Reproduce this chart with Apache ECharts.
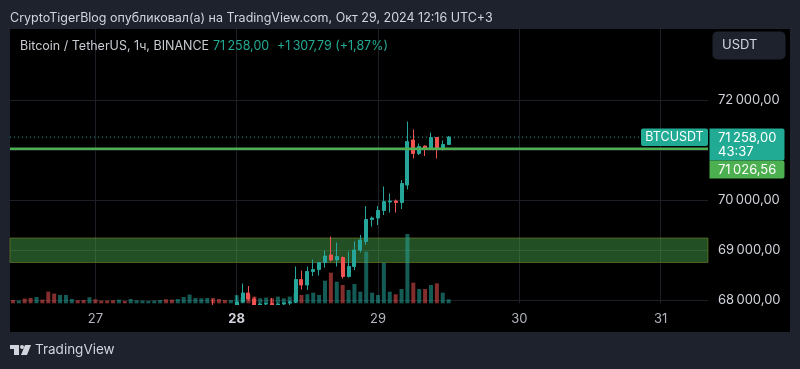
<!DOCTYPE html>
<html><head><meta charset="utf-8">
<script src="https://cdn.jsdelivr.net/npm/echarts@6/dist/echarts.min.js"></script>
<style>html,body{margin:0;padding:0;background:#1e222d;}#c{width:800px;height:369px;}</style>
</head><body><div id="c"></div>
<script>
// ---- data (1h candles, BTC/USDT, UTC+3) ----
const times = [
 '2024-10-26T10:00','2024-10-26T11:00','2024-10-26T12:00','2024-10-26T13:00','2024-10-26T14:00','2024-10-26T15:00','2024-10-26T16:00',
 '2024-10-26T17:00','2024-10-26T18:00','2024-10-26T19:00','2024-10-26T20:00','2024-10-26T21:00','2024-10-26T22:00','2024-10-26T23:00',
 '2024-10-27T00:00','2024-10-27T01:00','2024-10-27T02:00','2024-10-27T03:00','2024-10-27T04:00','2024-10-27T05:00','2024-10-27T06:00',
 '2024-10-27T07:00','2024-10-27T08:00','2024-10-27T09:00','2024-10-27T10:00','2024-10-27T11:00','2024-10-27T12:00','2024-10-27T13:00',
 '2024-10-27T14:00','2024-10-27T15:00','2024-10-27T16:00','2024-10-27T17:00','2024-10-27T18:00','2024-10-27T19:00','2024-10-27T20:00',
 '2024-10-27T21:00','2024-10-27T22:00','2024-10-27T23:00',
 '2024-10-28T00:00','2024-10-28T01:00','2024-10-28T02:00','2024-10-28T03:00','2024-10-28T04:00','2024-10-28T05:00','2024-10-28T06:00',
 '2024-10-28T07:00','2024-10-28T08:00','2024-10-28T09:00','2024-10-28T10:00','2024-10-28T11:00','2024-10-28T12:00','2024-10-28T13:00',
 '2024-10-28T14:00','2024-10-28T15:00','2024-10-28T16:00','2024-10-28T17:00','2024-10-28T18:00','2024-10-28T19:00','2024-10-28T20:00',
 '2024-10-28T21:00','2024-10-28T22:00','2024-10-28T23:00',
 '2024-10-29T00:00','2024-10-29T01:00','2024-10-29T02:00','2024-10-29T03:00','2024-10-29T04:00','2024-10-29T05:00','2024-10-29T06:00',
 '2024-10-29T07:00','2024-10-29T08:00','2024-10-29T09:00','2024-10-29T10:00','2024-10-29T11:00','2024-10-29T12:00'
];
const opens = [
 67250,67180,67230,67120,67020,67150,67090,66900,66820,66950,67060,67110,67070,67030,
 67150,67080,67040,67010,66980,67050,67020,67100,67140,67170,67200,67230,67290,67230,67180,67260,67400,67590,67650,67700,67760,67680,67630,67600,
 67700,67960,68140,68020,67900,67920,67930,67900,67920,67940,67960,68410,68300,68570,68610,68750,68900,68800,68850,68470,68670,69000,69170,69610,
 69640,69790,69960,69980,69950,70300,71200,70930,71080,71030,71250,71020,71110
];
const closes = [
 67180,67230,67120,67020,67150,67090,66900,66820,66950,67060,67110,67070,67030,67150,
 67080,67040,67010,66980,67050,67020,67100,67140,67170,67200,67230,67290,67230,67180,67260,67400,67590,67650,67700,67760,67680,67630,67600,67700,
 67960,68140,68020,67900,67920,67930,67900,67920,67940,67960,68410,68300,68570,68610,68750,68880,68800,68870,68470,68670,69000,69200,69610,69640,
 69790,69970,69980,69950,70330,71170,70930,71070,71020,71250,71020,71110,71258
];
const lows = [
 67150,67140,67090,66980,66990,67040,66850,66760,66800,66920,67030,67040,67000,67010,
 67060,67020,66990,66950,66960,67000,67010,67080,67120,67150,67180,67210,67200,67150,67160,67240,67380,67550,67620,67670,67650,67600,67570,67580,
 67680,67940,67990,67860,67830,67860,67850,67840,67870,67900,67940,68210,68200,68480,68490,68650,68770,68670,68430,68450,68600,68950,69100,69470,
 69500,69700,69750,69750,69820,70210,70830,70900,70880,71020,70830,70990,71100
];
const highs = [
 67300,67280,67260,67160,67190,67180,67120,66950,66990,67100,67140,67130,67100,67180,
 67170,67100,67060,67030,67070,67070,67120,67160,67190,67220,67250,67320,67310,67250,67290,67440,67650,67700,67740,67800,68020,67720,67660,67730,
 68100,68330,68280,68060,67940,67950,68040,67940,67950,67980,68670,68590,68670,68810,68760,68990,69270,69150,68870,68970,69170,69300,69880,69670,
 69880,70270,70130,70010,70400,71570,71410,71130,71090,71350,71260,71190,71280
];
const volumes = [
 330,270,470,530,630,370,1170,970,830,830,430,300,330,600,
 400,270,270,300,370,230,430,300,270,230,270,330,400,370,430,630,870,530,500,530,530,430,330,330,
 800,600,830,670,500,570,500,670,500,670,1000,830,900,1060,830,2260,3060,2160,1830,1330,1930,1160,5160,1060,
 830,4060,1160,900,1430,6930,2060,1430,1430,1830,2000,1060,400
];
const dayTicks = ['2024-10-27T00:00','2024-10-28T00:00','2024-10-29T00:00','2024-10-30T00:00','2024-10-31T00:00'];
const dayLabels = ['27', '28', '29', '30', '31'];
const priceTicks = [68000, 69000, 70000, 72000];
const lastPrice = 71258.00;
const levelPrice = 71026.56;
const zoneHigh = 69240, zoneLow = 68750;
const headerText = 'CryptoTigerBlog опубликовал(а) на TradingView.com, Окт 29, 2024 12:16 UTC+3';
const symbolText = 'Bitcoin / TetherUS, 1ч, BINANCE';
const changeText = '+1\u2009307,79 (+1,87%)';
const countdown = '43:37';

// ---- helpers ----
const FONT = 'Inter, Roboto, "Noto Sans", sans-serif';
const UP = '#26a69a', DOWN = '#ef5350';
const VOL_UP = 'rgba(38,166,154,0.55)', VOL_DOWN = 'rgba(239,83,80,0.55)';
const GRID_LINE = '#1c1f25';
const fmtPrice = v => { const p = v.toFixed(2).split('.'); return p[0].replace(/\B(?=(\d{3})+(?!\d))/g, '\u2009') + ',' + p[1]; };
const T0 = Date.parse('2024-10-29T00:00:00Z');
const toH = t => (Date.parse(t + ':00Z') - T0) / 3600000;
const hrs = times.map(toH);
const dayH = dayTicks.map(toH);
const candleData = hrs.map((h, i) => [h, opens[i], closes[i], lows[i], highs[i]]);
const volData = hrs.map((h, i) => ({ value: [h, volumes[i]], itemStyle: { color: closes[i] >= opens[i] ? VOL_UP : VOL_DOWN } }));

// visible time window (hours from 29 Oct 00:00) across plot x 10..708
const XMIN = -62.5, XMAX = 56.05;

const chart = echarts.init(document.getElementById('c'));
chart.setOption({
  animation: false,
  backgroundColor: '#1e222d',
  textStyle: { fontFamily: FONT },
  grid: [
    { left: 10, top: 100, width: 698, height: 200 },
    { left: 10, top: 29, width: 698, height: 276 },
    { left: 10, top: 29, width: 698, height: 274.3 }
  ],
  xAxis: [
    { gridIndex: 0, type: 'value', min: 0, max: 1, show: false },
    { gridIndex: 1, type: 'value', min: XMIN, max: XMAX, z: 20,
      axisLine: { show: false }, axisTick: { show: false, customValues: dayH },
      splitLine: { show: false },
      axisLabel: { margin: 8, color: '#b2b5be', fontSize: 13, fontFamily: FONT,
        customValues: dayH,
        formatter: v => { const i = dayH.indexOf(v); const s = i >= 0 ? dayLabels[i] : ''; return s === '28' ? '{b|28}' : s; },
        rich: { b: { fontWeight: 'bold', color: '#d1d4dc', fontSize: 13, fontFamily: FONT } } } },
    { gridIndex: 2, type: 'value', min: XMIN, max: XMAX, z: 0,
      axisLine: { show: false }, axisTick: { show: false, customValues: dayH }, axisLabel: { show: false, customValues: dayH },
      splitLine: { show: true, lineStyle: { color: GRID_LINE, width: 1 } } }
  ],
  yAxis: [
    { gridIndex: 0, type: 'value', min: 68000, max: 72000, interval: 1000, position: 'right',
      axisLine: { show: false }, axisTick: { show: false },
      splitLine: { lineStyle: { color: GRID_LINE, width: 1 } },
      axisLabel: { margin: 10, color: '#d1d4dc', fontSize: 13, fontFamily: FONT,
        formatter: v => priceTicks.indexOf(v) >= 0 ? fmtPrice(v) : '' } },
    { gridIndex: 1, type: 'value', min: 67900, max: 73420, show: false },
    { gridIndex: 2, type: 'value', min: 0, max: 27430, show: false }
  ],
  series: [
    { type: 'bar', name: 'Volume', xAxisIndex: 2, yAxisIndex: 2, data: volData, barWidth: 4, z: 1, silent: true },
    { type: 'line', name: 'last', xAxisIndex: 0, yAxisIndex: 0, data: [[0, lastPrice], [1, lastPrice]],
      symbol: 'none', silent: true, z: 2,
      lineStyle: { color: UP, width: 1, type: [1, 3] },
      markArea: { silent: true, itemStyle: { color: 'rgba(76,175,80,0.45)', borderColor: 'rgba(120,130,40,0.6)', borderWidth: 1 },
        data: [[{ coord: [0, zoneHigh] }, { coord: [1, zoneLow] }]] } },
    { type: 'candlestick', name: 'BTCUSDT', xAxisIndex: 1, yAxisIndex: 1, data: candleData,
      encode: { x: 0, y: [1, 2, 3, 4] }, barWidth: 3.5, z: 3, clip: true, silent: true,
      itemStyle: { color: UP, color0: DOWN, borderColor: UP, borderColor0: DOWN, borderWidth: 1 } },
    { type: 'line', name: 'level', xAxisIndex: 0, yAxisIndex: 0, data: [[0, levelPrice], [1, levelPrice]],
      symbol: 'none', silent: true, z: 4, lineStyle: { color: '#4caf50', width: 2.5 } }
  ]
});

const yLast = chart.convertToPixel({ yAxisIndex: 0 }, lastPrice);
const TEAL = '#22ab94';
chart.setOption({ graphic: [
  { type: 'rect', z: -10, silent: true, shape: { x: 10, y: 29, width: 780, height: 303 }, style: { fill: '#000000' } },
  { type: 'rect', z: 8, silent: true, shape: { x: 10, y: 305, width: 698, height: 27 }, style: { fill: '#000000' } },
  { type: 'text', x: 10, y: 18, silent: true, style: { text: headerText, fill: '#d1d4dc', font: '12.5px ' + FONT, verticalAlign: 'middle' } },
  { type: 'text', x: 20, y: 46, silent: true, style: { text: symbolText, fill: '#c8cbd2', font: '12.5px ' + FONT, verticalAlign: 'middle' } },
  { type: 'text', x: 213, y: 46, silent: true, style: { text: fmtPrice(lastPrice), fill: TEAL, font: '12.5px ' + FONT, verticalAlign: 'middle' } },
  { type: 'text', x: 277, y: 46, silent: true, style: { text: changeText, fill: TEAL, font: '12.5px ' + FONT, verticalAlign: 'middle' } },
  { type: 'rect', silent: true, shape: { x: 712.5, y: 31.5, width: 73, height: 28, r: 5 }, style: { fill: '#1e222d' } },
  { type: 'text', x: 722, y: 45.5, silent: true, style: { text: 'USDT', fill: '#d1d4dc', font: '13px ' + FONT, verticalAlign: 'middle' } },
  { type: 'rect', silent: true, z: 10, shape: { x: 641, y: yLast - 8.5, width: 67, height: 17.5, r: 2 }, style: { fill: TEAL } },
  { type: 'text', silent: true, z: 11, x: 674.5, y: yLast + 0.5, style: { text: 'BTCUSDT', fill: '#ffffff', font: '12.5px ' + FONT, align: 'center', verticalAlign: 'middle' } },
  { type: 'rect', silent: true, z: 10, shape: { x: 709.5, y: yLast - 8.5, width: 75, height: 32, r: [0, 2, 2, 0] }, style: { fill: TEAL } },
  { type: 'text', silent: true, z: 11, x: 718, y: yLast + 0.5, style: { text: fmtPrice(lastPrice), fill: '#ffffff', font: '13px ' + FONT, verticalAlign: 'middle' } },
  { type: 'text', silent: true, z: 11, x: 718, y: yLast + 14.5, style: { text: countdown, fill: '#ffffff', font: '13px ' + FONT, verticalAlign: 'middle' } },
  { type: 'rect', silent: true, z: 10, shape: { x: 709.5, y: yLast + 23.5, width: 75, height: 18, r: [0, 2, 2, 0] }, style: { fill: '#4caf50' } },
  { type: 'text', silent: true, z: 11, x: 718, y: yLast + 32.5, style: { text: fmtPrice(levelPrice), fill: '#ffffff', font: '13px ' + FONT, verticalAlign: 'middle' } },
  { type: 'rect', silent: true, shape: { x: 10, y: 345, width: 9, height: 4 }, style: { fill: '#d1d4dc' } },
  { type: 'rect', silent: true, shape: { x: 14, y: 345, width: 5, height: 10 }, style: { fill: '#d1d4dc' } },
  { type: 'circle', silent: true, shape: { cx: 22, cy: 347, r: 2 }, style: { fill: '#d1d4dc' } },
  { type: 'polygon', silent: true, shape: { points: [[25, 345], [31, 345], [27, 355], [21, 355]] }, style: { fill: '#d1d4dc' } },
  { type: 'text', x: 35, y: 350, silent: true, style: { text: 'TradingView', fill: '#d1d4dc', font: '13.5px ' + FONT, verticalAlign: 'middle' } }
] });
</script></body></html>
